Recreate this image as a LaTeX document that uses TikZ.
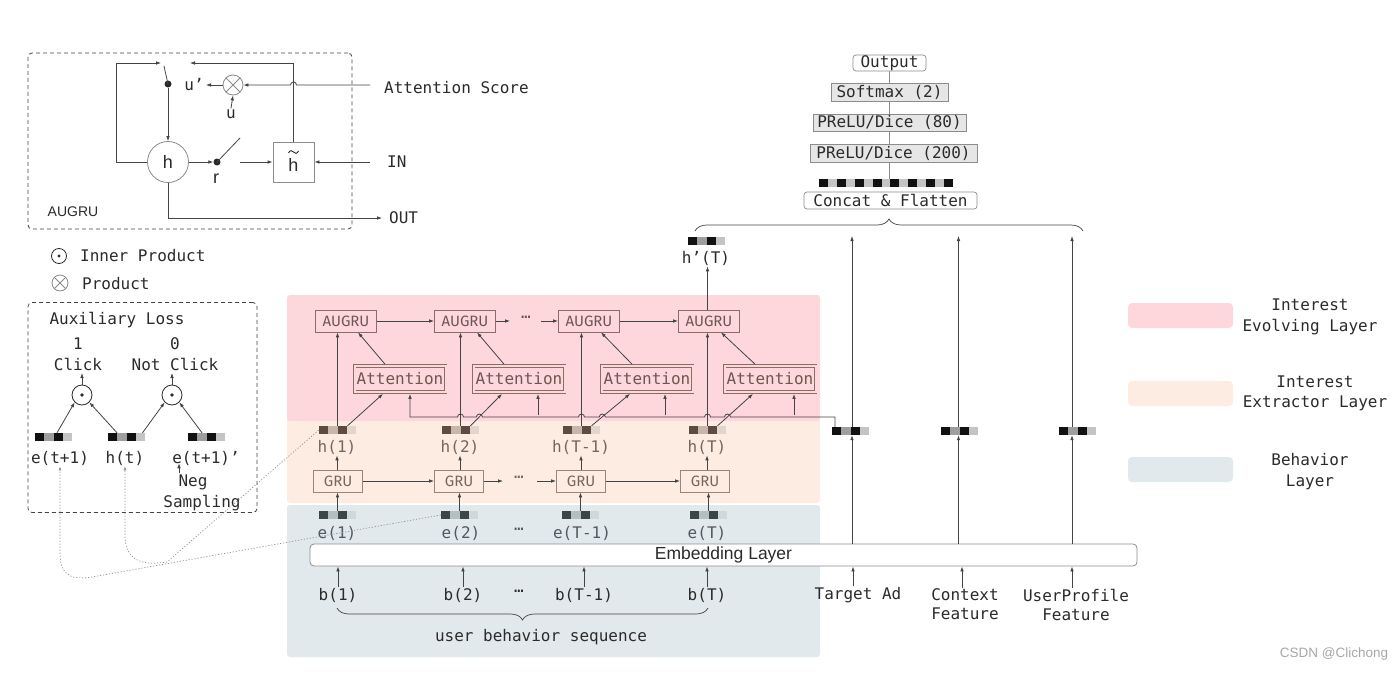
\documentclass[tikz,border=0pt]{standalone}
\usepackage{fontspec}
\setmainfont{Liberation Sans}
\setmonofont{DejaVu Sans Mono}
\newfontfamily\firafont{Fira Sans}
\usetikzlibrary{arrows.meta,decorations.pathreplacing,backgrounds}
\definecolor{ink}{HTML}{2B2B2B}
\definecolor{lnc}{HTML}{444444}
\definecolor{redband}{HTML}{FDD7DB}
\definecolor{orgband}{HTML}{FDECE2}
\definecolor{bluband}{HTML}{E2E9EC}
\definecolor{brn}{HTML}{8A6E66}
\definecolor{brntx}{HTML}{6E5750}
\definecolor{orntx}{HTML}{76665F}
\definecolor{blutx}{HTML}{4E5B60}
\definecolor{boxgray}{HTML}{E6E6E6}
\definecolor{boxline}{HTML}{8C8C8C}
\definecolor{kA}{HTML}{111111}
\definecolor{kB}{HTML}{9E9E9E}
\definecolor{kC}{HTML}{C4C4C4}
\definecolor{hA}{HTML}{5E4B42}
\definecolor{hB}{HTML}{C9B6AA}
\definecolor{hC}{HTML}{E3D5CB}
\definecolor{eA}{HTML}{3B4649}
\definecolor{eB}{HTML}{B5BEC1}
\definecolor{eC}{HTML}{D0D8DA}
\definecolor{wm}{HTML}{A8A8A8}
\newcommand\monotxt{\ttfamily\fontsize{16}{19}\selectfont}
\newcommand\sanstxt{\rmfamily\fontsize{18}{21}\selectfont}
\newcommand\firatxt{\firafont\fontsize{15}{18}\selectfont}
\newcommand\fourcell[7]{%
  \fill[#4] (#2,#3) rectangle ++(9.25,8);
  \fill[#5] (#2+9.25,#3) rectangle ++(9.25,8);
  \fill[#6] (#2+18.5,#3) rectangle ++(9.25,8);
  \fill[#7] (#2+27.75,#3) rectangle ++(9.25,8);
  \node[inner sep=0pt,minimum width=37pt,minimum height=8pt] (#1) at (#2+18.5,#3+4) {};}
\begin{document}
\begin{tikzpicture}[x=1pt,y=-1pt,
  every node/.style={text=ink, font=\monotxt, inner sep=1pt},
  ln/.style={draw=lnc, line width=0.8pt},
  arr/.style={ln, -{Latex[length=5pt,width=3.6pt]}},
  dotc/.style={draw=gray!85, line width=0.7pt, dash pattern=on 1.2pt off 1.8pt},
  graybox/.style={draw=boxline, fill=boxgray, line width=0.7pt, inner sep=0pt},
  whitebox/.style={draw=boxline, fill=white, rounded corners=3pt, line width=0.7pt, inner sep=0pt},
  augbox/.style={draw=brn, line width=0.8pt, minimum width=61pt, minimum height=22pt, inner sep=0pt, font=\firatxt, text=brntx},
  grubox/.style={draw=brn!85, line width=0.8pt, minimum width=49pt, minimum height=22pt, inner sep=0pt, font=\firatxt, text=orntx},
  attbox/.style={draw=brn, double=redband, double distance=2pt, line width=0.7pt, fill=redband, minimum width=91pt, minimum height=26pt, inner sep=0pt, text=brntx},
  brc/.style={ln, line width=0.7pt, decorate, decoration={brace, amplitude=12pt}},
  dashbox/.style={draw=lnc, line width=0.8pt, dash pattern=on 4pt off 3pt, rounded corners=4pt, inner sep=0pt},
]
\useasboundingbox (0,0) rectangle (1400,696);
\begin{scope}[on background layer]
\fill[white] (0,0) rectangle (1400,696);
\end{scope}

% ---------- layer bands ----------
\fill[orgband, rounded corners=3pt] (287,415) rectangle (820,503);
\fill[redband, rounded corners=3pt] (287,295) rectangle (820,421);
\fill[bluband, rounded corners=3pt] (287,505) rectangle (820,657);

% ---------- AUGRU cell diagram ----------
\node[dashbox, minimum width=324pt, minimum height=176pt] (augframe) at (190,141) {};
\coordinate (toprow) at (0,63);
\node[circle, draw=boxline, fill=white, line width=0.8pt, minimum size=41pt, inner sep=0pt, font=\sanstxt] (hc) at (168,162) {h};
\node[draw=boxline, line width=0.8pt, minimum width=41pt, minimum height=40pt, inner sep=0pt] (htil) at (293.5,162) {};
\node[font=\sanstxt, inner sep=0pt] (htxt) at (293.5,165) {h};
\draw[ink, line width=0.9pt] (288.5,153) .. controls (290,150) and (292,150) .. (293.5,152) .. controls (295,154) and (297,154) .. (298.5,151);
\node[circle, fill=ink, minimum size=7pt, inner sep=0pt] (rdot) at (217,162) {};
\node[circle, fill=ink, minimum size=7pt, inner sep=0pt] (udot) at (168,84) {};
\node[circle, draw=boxline, line width=0.8pt, minimum size=20pt, inner sep=0pt] (otim) at (233,85) {};
\draw[draw=boxline, line width=0.8pt] (otim.north west) -- (otim.south east) (otim.north east) -- (otim.south west);
\node (uprime) at (194,85) {u’};
\node (ulab) at (231,114) {u};
\node[font=\sanstxt] (rlab) at (216,179) {r};
\node[anchor=west] (atts) at (383,88) {Attention Score};
\node[anchor=west] (intx) at (386,162) {IN};
\node[anchor=west] (outx) at (388,218) {OUT};
\node[font=\rmfamily\fontsize{14}{16}\selectfont] (auglab) at (73,212) {AUGRU};

\draw[arr] (hc.west) -- (116,162) -- (116,63) -- (161,63);
\draw[ln] (164,66) -- (udot.center);
\draw[arr] (udot) -- (hc.north);
\draw[arr] (htil.north) -- (htil.north |- toprow) -- (190,63);
\draw[arr] (370,85) -- (296.5,85) arc(0:-180:3) -- (otim.east);
\draw[arr] (otim.west) -- (206,85);
\draw[arr] (ulab.north) -- (otim.south);
\draw[arr] (hc.east) -- (rdot.west);
\draw[ln] (rdot.center) -- (240,138);
\draw[arr] (240,162) -- (htil.west);
\draw[arr] (370,162) -- (htil.east);
\draw[arr] (hc.south) |- (382,218);

% ---------- symbol legend ----------
\node[circle, draw=ink, line width=0.8pt, minimum size=15pt, inner sep=0pt] (ipleg) at (59,256) {};
\fill[ink] (ipleg.center) circle (1.6);
\node[anchor=west] (iptx) at (79,256) {Inner Product};
\node[circle, draw=boxline, line width=0.8pt, minimum size=16pt, inner sep=0pt] (prleg) at (60,283) {};
\draw[draw=boxline, line width=0.8pt] (prleg.north west) -- (prleg.south east) (prleg.north east) -- (prleg.south west);
\node[anchor=west] (prtx) at (81,284) {Product};

% ---------- auxiliary loss ----------
\node[dashbox, minimum width=229pt, minimum height=210pt] (auxframe) at (142.5,407.5) {};
\node (auxt) at (117,320) {Auxiliary Loss};
\node (one) at (78,344) {1};
\node (click) at (78,364) {Click};
\node (zero) at (175,344) {0};
\node (nclick) at (175,364) {Not Click};
\node[circle, draw=ink, line width=0.8pt, minimum size=20pt, inner sep=0pt] (ip1) at (82,395) {};
\fill[ink] (ip1.center) circle (1.8);
\node[circle, draw=ink, line width=0.8pt, minimum size=20pt, inner sep=0pt] (ip2) at (172,395) {};
\fill[ink] (ip2.center) circle (1.8);
\draw[arr] (ip1.north) -- (82,373);
\draw[arr] (ip2.north) -- (172,373);
\fourcell{vet}{35}{433}{kA}{kB}{kA}{kC}
\fourcell{vht}{108}{433}{kA}{kB}{kA}{kC}
\fourcell{vetn}{188}{433}{kA}{kB}{kA}{kC}
\node (etl) at (60,458) {e(t+1)};
\node (htl) at (125,458) {h(t)};
\node (etnl) at (206,458) {e(t+1)’};
\node (neg) at (193,482) {Neg};
\node (samp) at (202,503) {Sampling};
\draw[arr] ([xshift=3.5pt]vet.north) -- (ip1.south west);
\draw[arr] ([xshift=-9.5pt]vht.north) -- (ip1.south east);
\draw[arr] ([xshift=16pt]vht.north) -- (ip2.south west);
\draw[arr] ([xshift=-4.5pt]vetn.north) -- (ip2.south east);
\draw[arr] ([xshift=-14pt]neg.north) -- ++(0,-10);

% ---------- behaviour / extractor / evolving layers ----------
\fourcell{hv1}{319}{426}{hA}{hB}{hA}{hC}
\fourcell{hv2}{442}{426}{hA}{hB}{hA}{hC}
\fourcell{hv3}{563}{426}{hA}{hB}{hA}{hC}
\fourcell{hv4}{689}{426}{hA}{hB}{hA}{hC}
\node[text=orntx] (hl1) at (337,447) {h(1)};
\node[text=orntx] (hl2) at (460,447) {h(2)};
\node[text=orntx] (hl3) at (581,447) {h(T-1)};
\node[text=orntx] (hl4) at (707,447) {h(T)};

\node[grubox] (gru1) at (338,481) {GRU};
\node[grubox] (gru2) at (459,481) {GRU};
\node[grubox] (gru3) at (581,481) {GRU};
\node[grubox] (gru4) at (705,481) {GRU};
\node[text=orntx] (gdots) at (519,477) {…};
\draw[arr] (gru1.east) -- (gru2.west);
\draw[arr] (gru2.east) -- (503,481);
\draw[arr] (537,481) -- (gru3.west);
\draw[arr] (gru3.east) -- (gru4.west);
\foreach \i in {1,2,3,4}{
  \draw[arr] (gru\i.north -| hl\i.south) -- (hl\i.south);
}

\fourcell{ev1}{319}{511}{eA}{eB}{eA}{eC}
\fourcell{ev2}{441}{511}{eA}{eB}{eA}{eC}
\fourcell{ev3}{562}{511}{eA}{eB}{eA}{eC}
\fourcell{ev4}{690}{511}{eA}{eB}{eA}{eC}
\foreach \i in {1,2,3,4}{
  \draw[arr] (ev\i.north) -- (ev\i.north |- gru\i.south);
}
\node[text=blutx] (el1) at (337,533) {e(1)};
\node[text=blutx] (el2) at (461,533) {e(2)};
\node[text=blutx] (edots) at (519,529) {…};
\node[text=blutx] (el3) at (582,533) {e(T-1)};
\node[text=blutx] (el4) at (707,533) {e(T)};

\node[draw=boxline, fill=white, rounded corners=4pt, line width=0.8pt, minimum width=827pt, minimum height=22pt, inner sep=0pt,
  font=\rmfamily\fontsize{17.5}{20}\selectfont] (emb) at (723.5,555) {Embedding Layer};

\node (bl1) at (338,595) {b(1)};
\node (bl2) at (463,595) {b(2)};
\node (bdots) at (519,591) {…};
\node (bl3) at (584,595) {b(T-1)};
\node (bl4) at (707,595) {b(T)};
\foreach \i in {1,2,3,4}{
  \draw[arr] (bl\i.north) -- (bl\i.north |- emb.south);
}
\draw[brc] (708,608) -- (337,608);
\node (ubs) at (541,637) {user behavior sequence};

% AUGRU row
\node[augbox] (au1) at (346,321) {AUGRU};
\node[augbox] (au2) at (465,321) {AUGRU};
\node[augbox] (au3) at (589,321) {AUGRU};
\node[augbox] (au4) at (709,321) {AUGRU};
\node[text=brntx] (adots) at (526,317) {…};
\draw[arr] (au1.east) -- (au2.west);
\draw[arr] (au2.east) -- (510,321);
\draw[arr] (541,321) -- (au3.west);
\draw[arr] (au3.east) -- (au4.west);

\node[attbox] (att1) at (400,379) {Attention};
\node[attbox] (att2) at (519,379) {Attention};
\node[attbox] (att3) at (647,379) {Attention};
\node[attbox] (att4) at (770,379) {Attention};
\foreach \i in {1,2,3,4}{
  \draw[arr] (hv\i.north) -- (hv\i.north |- au\i.south);
  \draw[arr] ([xshift=10pt]hv\i.north) -- ([xshift=-17pt,yshift=-1.5pt]att\i.south);
  \draw[arr] ([xshift=-15pt,yshift=1.5pt]att\i.north) -- ([xshift=12pt]au\i.south);
}

% right-hand features
\fourcell{tgv}{832}{427}{kA}{kB}{kA}{kC}
\fourcell{cgv}{941}{427}{kA}{kB}{kA}{kC}
\fourcell{upv}{1059}{427}{kA}{kB}{kA}{kC}
\node (tgl) at (858,595) {Target Ad};
\node[align=center, font=\ttfamily\fontsize{16}{19}\selectfont] (cxl) at (965,604.5) {Context\\Feature};
\node[align=center, font=\ttfamily\fontsize{16}{19}\selectfont] (upl) at (1076,604.5) {UserProfile\\Feature};
\draw[arr] ([xshift=-5pt]tgl.north) -- ([xshift=-5pt]tgl.north |- emb.south);
\draw[arr] ([xshift=-3pt]cxl.north) -- ([xshift=-3pt]cxl.north |- emb.south);
\draw[arr] ([xshift=-4pt]upl.north) -- ([xshift=-4pt]upl.north |- emb.south);
\draw[arr] ([xshift=1.5pt]tgv.south |- emb.north) -- ([xshift=1.5pt]tgv.south);
\draw[arr] ([xshift=-1pt]cgv.south |- emb.north) -- ([xshift=-1pt]cgv.south);
\draw[arr] ([xshift=-5.5pt]upv.south |- emb.north) -- ([xshift=-5.5pt]upv.south);
\coordinate (bracebot) at (0,236);
\draw[arr] ([xshift=1.5pt]tgv.north) -- ([xshift=1.5pt]tgv.north |- bracebot);
\draw[arr] ([xshift=-1pt]cgv.north) -- ([xshift=-1pt]cgv.north |- bracebot);
\draw[arr] ([xshift=-5.5pt]upv.north) -- ([xshift=-5.5pt]upv.north |- bracebot);

% target ad line to attention units (with hops)
\draw[arr] ([xshift=-15.5pt]tgv.north) -- (835,417) -- (730.5,417) arc(0:-180:3) -- (710.5,417) arc(0:-180:3)
  -- (605.3,417) arc(0:-180:3) -- (584.5,417) arc(0:-180:3) -- (482.4,417) arc(0:-180:3)
  -- (463.5,417) arc(0:-180:3) -| ([xshift=10pt,yshift=-1.5pt]att1.south);
\draw[arr] ([xshift=19pt,yshift=-23pt]att2.south) -- ([xshift=19pt,yshift=-1.5pt]att2.south);
\draw[arr] ([xshift=18pt,yshift=-23pt]att3.south) -- ([xshift=18pt,yshift=-1.5pt]att3.south);
\draw[arr] ([xshift=24pt,yshift=-23pt]att4.south) -- ([xshift=24pt,yshift=-1.5pt]att4.south);

% h'(T)
\fourcell{hpv}{688}{237}{kA}{kB}{kA}{kC}
\node (hpl) at (706,258) {h’(T)};
\draw[arr] (hv4.north |- au4.north) -- (hv4.north |- hpl.south);

% top stack
\draw[brc] (695,231) -- (1083,231);
\node[whitebox, minimum width=173pt, minimum height=17pt] (concat) at (890.5,200.5) {Concat \& Flatten};
\foreach \i in {0,2,...,14}{\fill[kA] (819+\i*8.93,179) rectangle ++(8.93,8);}
\foreach \i in {1,3,...,13}{\fill[kC] (819+\i*8.93,179) rectangle ++(8.93,8);}
\node[inner sep=0pt, minimum width=134pt, minimum height=8pt] (ccv) at (886,183) {};
\node[graybox, minimum width=167pt, minimum height=18pt] (pr200) at (893.5,153) {PReLU/Dice (200)};
\node[graybox, minimum width=153pt, minimum height=17pt] (pr80) at (889.5,122.5) {PReLU/Dice (80)};
\node[graybox, minimum width=117pt, minimum height=18pt] (smx) at (889.5,92) {Softmax (2)};
\node[whitebox, minimum width=73pt, minimum height=16pt] (outb) at (889.5,63) {Output};
\begin{scope}[on background layer]
\draw[draw=boxline, line width=0.8pt] (outb.south) -- (outb.south |- ccv.north);
\end{scope}

% dotted links
\draw[dotc, -{Latex[length=4pt,width=3pt]}] (ev2.west) -- (92,577) .. controls (67,581) and (60,572) .. (60,552) -- (etl.south);
\draw[dotc, -{Latex[length=4pt,width=3pt]}] (hv1.west) -- (167,562) .. controls (136,567) and (125,556) .. (125,535) -- (htl.south);

% legend for layers
\fill[redband, rounded corners=4pt] (1128,303) rectangle (1233,328);
\fill[orgband, rounded corners=4pt] (1128,381) rectangle (1233,406);
\fill[bluband, rounded corners=4pt] (1128,457) rectangle (1233,482);
\node[align=center, font=\ttfamily\fontsize{16}{20.5}\selectfont] (lg1) at (1310,317) {Interest\\Evolving Layer};
\node[align=center, font=\ttfamily\fontsize{16}{20.5}\selectfont] (lg2) at (1315,393.5) {Interest\\Extractor Layer};
\node[align=center, font=\ttfamily\fontsize{16}{21}\selectfont] (lg3) at (1310,472) {Behavior\\Layer};

\node[text=wm, font=\rmfamily\fontsize{13.5}{15}\selectfont] (wmk) at (1334,654) {CSDN @Clichong};
\end{tikzpicture}
\end{document}
